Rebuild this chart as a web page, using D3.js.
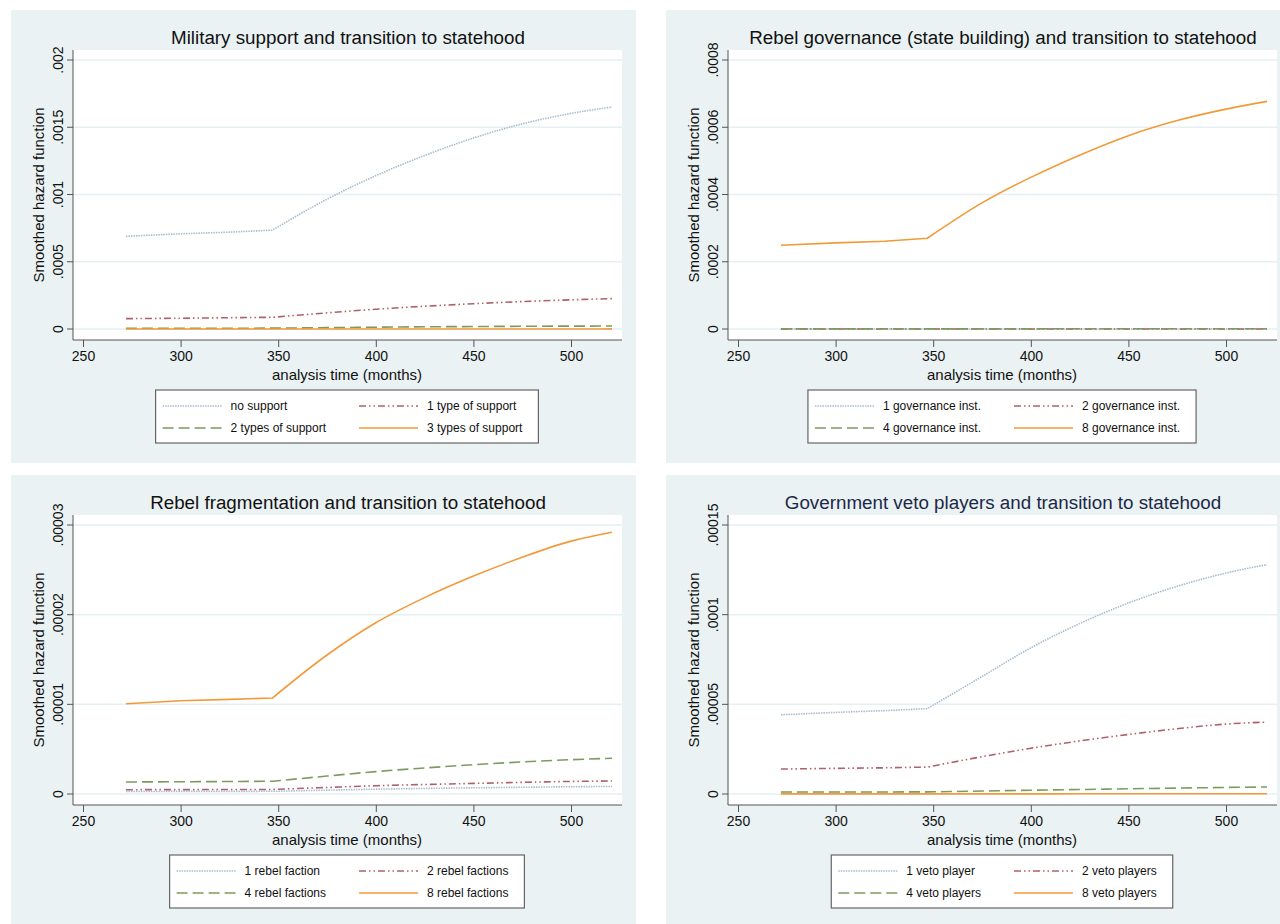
<!DOCTYPE html>
<html>
<head>
<meta charset="utf-8">
<script src="https://cdn.jsdelivr.net/npm/d3@7"></script>
<style>
  body { margin: 0; background: #fff; }
  svg text { font-family: "Liberation Sans", Arial, sans-serif; }
</style>
</head>
<body>
<svg id="chart" width="1280" height="924"></svg>
<script>
// analysis time (months) at which the curves were read; index 3 is the kink
const times = [272, 300, 325, 347, 375, 400, 425, 450, 475, 500, 521];
const kink = 3;

// Military support
const milNoSupport = [6.89e-4, 7.08e-4, 7.2e-4, 7.35e-4, 9.65e-4, 1.14e-3, 1.29e-3, 1.42e-3, 1.525e-3, 1.603e-3, 1.65e-3];
const milOneType = [7.7e-5, 8.0e-5, 8.4e-5, 8.7e-5, 1.2e-4, 1.47e-4, 1.69e-4, 1.88e-4, 2.04e-4, 2.17e-4, 2.26e-4];
const milTwoTypes = [5e-6, 5.5e-6, 6e-6, 6.2e-6, 1.0e-5, 1.35e-5, 1.63e-5, 1.85e-5, 2.02e-5, 2.14e-5, 2.2e-5];
const milThreeTypes = [2e-7, 2e-7, 2e-7, 2e-7, 3e-7, 4e-7, 4e-7, 5e-7, 5e-7, 5e-7, 6e-7];

// Rebel governance
const gov1 = [1e-8, 1e-8, 1e-8, 1e-8, 1e-8, 2e-8, 2e-8, 2e-8, 2e-8, 2e-8, 2e-8];
const gov2 = [5e-8, 5e-8, 5e-8, 5e-8, 7e-8, 9e-8, 1e-7, 1.1e-7, 1.2e-7, 1.3e-7, 1.3e-7];
const gov4 = [3e-7, 3e-7, 3e-7, 3e-7, 4e-7, 5e-7, 6e-7, 7e-7, 7e-7, 8e-7, 8e-7];
const gov8 = [2.49e-4, 2.56e-4, 2.61e-4, 2.7e-4, 3.75e-4, 4.51e-4, 5.17e-4, 5.75e-4, 6.2e-4, 6.54e-4, 6.77e-4];

// Rebel fragmentation
const frag1 = [2.8e-7, 2.9e-7, 2.95e-7, 3.0e-7, 4.3e-7, 5.4e-7, 6.2e-7, 6.9e-7, 7.5e-7, 8.1e-7, 8.4e-7];
const frag2 = [4.8e-7, 4.9e-7, 5.0e-7, 5.1e-7, 7.3e-7, 9.2e-7, 1.06e-6, 1.18e-6, 1.3e-6, 1.4e-6, 1.45e-6];
const frag4 = [1.34e-6, 1.37e-6, 1.39e-6, 1.42e-6, 2.0e-6, 2.5e-6, 2.9e-6, 3.27e-6, 3.58e-6, 3.83e-6, 3.98e-6];
const frag8 = [1.007e-5, 1.04e-5, 1.055e-5, 1.07e-5, 1.55e-5, 1.91e-5, 2.19e-5, 2.43e-5, 2.64e-5, 2.82e-5, 2.92e-5];

// Government veto players
const veto1 = [4.42e-5, 4.55e-5, 4.65e-5, 4.76e-5, 6.55e-5, 8.15e-5, 9.5e-5, 1.065e-4, 1.158e-4, 1.232e-4, 1.279e-4];
const veto2 = [1.39e-5, 1.43e-5, 1.46e-5, 1.5e-5, 2.08e-5, 2.55e-5, 2.96e-5, 3.32e-5, 3.64e-5, 3.9e-5, 4.01e-5];
const veto4 = [1.1e-6, 1.13e-6, 1.15e-6, 1.17e-6, 1.65e-6, 2.1e-6, 2.5e-6, 2.9e-6, 3.3e-6, 3.65e-6, 3.9e-6];
const veto8 = [5e-8, 5e-8, 5e-8, 5e-8, 7e-8, 9e-8, 1e-7, 1.1e-7, 1.2e-7, 1.3e-7, 1.3e-7];

const xTicks = [250, 300, 350, 400, 450, 500];
const yTicksMil = [0, 0.0005, 0.001, 0.0015, 0.002];
const yLabelsMil = ["0", ".0005", ".001", ".0015", ".002"];
const yTicksGov = [0, 0.0002, 0.0004, 0.0006, 0.0008];
const yLabelsGov = ["0", ".0002", ".0004", ".0006", ".0008"];
const yTicksFrag = [0, 0.00001, 0.00002, 0.00003];
const yLabelsFrag = ["0", ".00001", ".00002", ".00003"];
const yTicksVeto = [0, 0.00005, 0.0001, 0.00015];
const yLabelsVeto = ["0", ".00005", ".0001", ".00015"];

const milLabels = ["no support", "1 type of support", "2 types of support", "3 types of support"];
const govLabels = ["1 governance inst.", "2 governance inst.", "4 governance inst.", "8 governance inst."];
const fragLabels = ["1 rebel faction", "2 rebel factions", "4 rebel factions", "8 rebel factions"];
const vetoLabels = ["1 veto player", "2 veto players", "4 veto players", "8 veto players"];

// line styles, same order in every panel
const styles = [
  { color: "#a9bccf", dash: "1.5,1" },
  { color: "#b0606a", dash: "7,3,1.5,3,1.5,3" },
  { color: "#7b9c5e", dash: "11,5" },
  { color: "#f29a38", dash: null }
];

const panels = [
  { px: 11, py: 10, title: "Military support and transition to statehood", titleColor: "#111",
    series: [milNoSupport, milOneType, milTwoTypes, milThreeTypes], labels: milLabels,
    yTicks: yTicksMil, yLabels: yLabelsMil },
  { px: 666, py: 10, title: "Rebel governance (state building) and transition to statehood", titleColor: "#111",
    series: [gov1, gov2, gov4, gov8], labels: govLabels,
    yTicks: yTicksGov, yLabels: yLabelsGov },
  { px: 11, py: 475, title: "Rebel fragmentation and transition to statehood", titleColor: "#111",
    series: [frag1, frag2, frag4, frag8], labels: fragLabels,
    yTicks: yTicksFrag, yLabels: yLabelsFrag },
  { px: 666, py: 475, title: "Government veto players and transition to statehood", titleColor: "#1c2848",
    series: [veto1, veto2, veto4, veto8], labels: vetoLabels,
    yTicks: yTicksVeto, yLabels: yLabelsVeto }
];

const svg = d3.select("#chart");

function drawPanel(p) {
  const g = svg.append("g");

  // outer graph region
  g.append("rect")
    .attr("x", p.px)
    .attr("y", p.py)
    .attr("width", 625)
    .attr("height", 453)
    .attr("fill", "#eaf2f3");

  // plot region
  const left = p.px + 62, right = p.px + 611;
  const top = p.py + 40, bottom = p.py + 330;
  g.append("rect")
    .attr("x", left)
    .attr("y", top)
    .attr("width", right - left)
    .attr("height", bottom - top)
    .attr("fill", "#fff");

  const x = d3.scaleLinear().domain([250, 500]).range([p.px + 72, p.px + 560]);
  const y = d3.scaleLinear()
    .domain([0, p.yTicks[p.yTicks.length - 1]])
    .range([p.py + 319, p.py + 50]);

  // grid lines
  g.selectAll(".grid")
    .data(p.yTicks)
    .enter()
    .append("line")
    .attr("x1", left)
    .attr("x2", right)
    .attr("y1", (d) => y(d))
    .attr("y2", (d) => y(d))
    .attr("stroke", "#e6eff1")
    .attr("stroke-width", 1.5);

  // curves: flat part drawn straight, rising part smoothed, so the kink stays sharp
  const pts = (s) => s.map((v, i) => [x(times[i]), y(v)]);
  const flat = d3.line().curve(d3.curveLinear);
  const rise = d3.line().curve(d3.curveMonotoneX);

  p.series.forEach((s, k) => {
    const all = pts(s);
    const d = flat(all.slice(0, kink + 1)) + rise(all.slice(kink)).replace(/^M/, "L");
    g.append("path")
      .attr("d", d)
      .attr("fill", "none")
      .attr("stroke", styles[k].color)
      .attr("stroke-width", 1.6)
      .attr("stroke-dasharray", styles[k].dash);
  });

  // y axis
  const yAxis = d3.axisLeft(y)
    .tickValues(p.yTicks)
    .tickSize(6)
    .tickSizeOuter(0)
    .tickFormat((d, i) => p.yLabels[i]);
  const ya = g.append("g")
    .attr("transform", `translate(${left},0)`)
    .call(yAxis);
  ya.select(".domain").attr("d", `M0,${top}V${bottom}`).attr("stroke", "#555");
  ya.selectAll("line").attr("stroke", "#555");
  ya.selectAll("text")
    .attr("transform", (d) => `translate(-10,${y(d)}) rotate(-90)`)
    .attr("x", 0)
    .attr("y", 0)
    .attr("dy", 0)
    .attr("text-anchor", "middle")
    .attr("font-size", 14)
    .attr("fill", "#111");
  ya.selectAll(".tick").attr("transform", null);
  ya.selectAll(".tick line")
    .attr("y1", (d) => y(d))
    .attr("y2", (d) => y(d));

  // x axis
  const xAxis = d3.axisBottom(x)
    .tickValues(xTicks)
    .tickSize(7)
    .tickSizeOuter(0);
  const xa = g.append("g")
    .attr("transform", `translate(0,${bottom})`)
    .call(xAxis);
  xa.select(".domain").attr("d", `M${left},0H${right}`).attr("stroke", "#555");
  xa.selectAll("line").attr("stroke", "#555");
  xa.selectAll("text")
    .attr("y", 21)
    .attr("dy", 0)
    .attr("font-size", 14)
    .attr("fill", "#111");

  // titles
  g.append("text")
    .attr("x", p.px + 337)
    .attr("y", p.py + 34)
    .attr("text-anchor", "middle")
    .attr("font-size", 18.8)
    .attr("fill", p.titleColor)
    .text(p.title);

  g.append("text")
    .attr("x", p.px + 336)
    .attr("y", p.py + 370)
    .attr("text-anchor", "middle")
    .attr("font-size", 15)
    .attr("fill", "#111")
    .text("analysis time (months)");

  g.append("text")
    .attr("transform", `translate(${p.px + 33},${p.py + 185}) rotate(-90)`)
    .attr("text-anchor", "middle")
    .attr("font-size", 15)
    .attr("fill", "#111")
    .text("Smoothed hazard function");

  // legend
  const lg = g.append("g");
  const box = lg.append("rect")
    .attr("fill", "#fff")
    .attr("stroke", "#666")
    .attr("stroke-width", 1.2);
  const texts = p.labels.map((t) =>
    lg.append("text").attr("font-size", 12).attr("fill", "#111").text(t)
  );
  const w = texts.map((t) => t.node().getComputedTextLength());
  const col1 = Math.max(w[0], w[2]);
  const col2 = Math.max(w[1], w[3]);
  const sample = 59, pad = 7, gap = 9, colGap = 33, padR = 16;
  const boxW = pad + sample + gap + col1 + colGap + sample + gap + col2 + padR;
  const boxX = p.px + 336 - boxW / 2;
  const boxY = p.py + 380;
  box.attr("x", boxX).attr("y", boxY).attr("width", boxW).attr("height", 53);

  p.labels.forEach((t, k) => {
    const col = k % 2, row = Math.floor(k / 2);
    const sx = boxX + pad + (col === 1 ? sample + gap + col1 + colGap : 0);
    const ry = boxY + 16 + row * 22;
    lg.append("line")
      .attr("x1", sx)
      .attr("x2", sx + sample)
      .attr("y1", ry)
      .attr("y2", ry)
      .attr("stroke", styles[k].color)
      .attr("stroke-width", 1.6)
      .attr("stroke-dasharray", styles[k].dash);
    texts[k].attr("x", sx + sample + gap).attr("y", ry + 4);
  });
}

panels.forEach(drawPanel);
</script>
</body>
</html>
